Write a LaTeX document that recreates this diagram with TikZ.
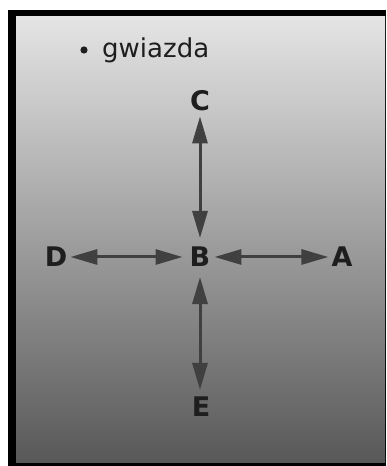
\documentclass[tikz,border=0pt]{standalone}
\usepackage{fontspec}
\setmainfont{DejaVu Sans}
\usetikzlibrary{arrows.meta}
\definecolor{arrowgray}{HTML}{404040}
\definecolor{txt}{HTML}{1E1E1E}
\tikzset{
  letter/.style={inner sep=0pt, font=\fontsize{27}{27}\selectfont\bfseries, text=txt},
  arr/.style={draw=arrowgray, line width=3pt, {Triangle[length=27pt,width=15pt]}-{Triangle[length=27pt,width=15pt]}}
}
\begin{document}
\begin{tikzpicture}[x=1pt,y=1pt]
\useasboundingbox (0,0) rectangle (386,466);
\fill[white] (0,0) rectangle (386,466);
\fill[black] (8,0) rectangle (386,456);
\shade[top color={rgb,255:red,228;green,228;blue,228}, bottom color={rgb,255:red,88;green,88;blue,88}] (16,3) rectangle (385,449);
\fill[txt] (84,416) circle (3.6pt);
\node[anchor=base west, inner sep=0pt, font=\fontsize{26}{26}\selectfont, text=txt] (title) at (102,408.5) {gwiazda};
\node[letter] (C) at (200,365) {C};
\node[letter] (B) at (200,209) {B};
\node[letter] (D) at (56,209) {D};
\node[letter] (A) at (342,209) {A};
\node[letter] (E) at (201,59) {E};
\draw[arr, shorten <=5pt, shorten >=9pt] (C) -- (B);
\draw[arr, shorten <=10pt, shorten >=7pt] (B.south) -- (B.south |- E.north);
\draw[arr, shorten <=3pt, shorten >=7pt] (D) -- (B);
\draw[arr, shorten <=4pt, shorten >=3pt] (B) -- (A);
\end{tikzpicture}
\end{document}
